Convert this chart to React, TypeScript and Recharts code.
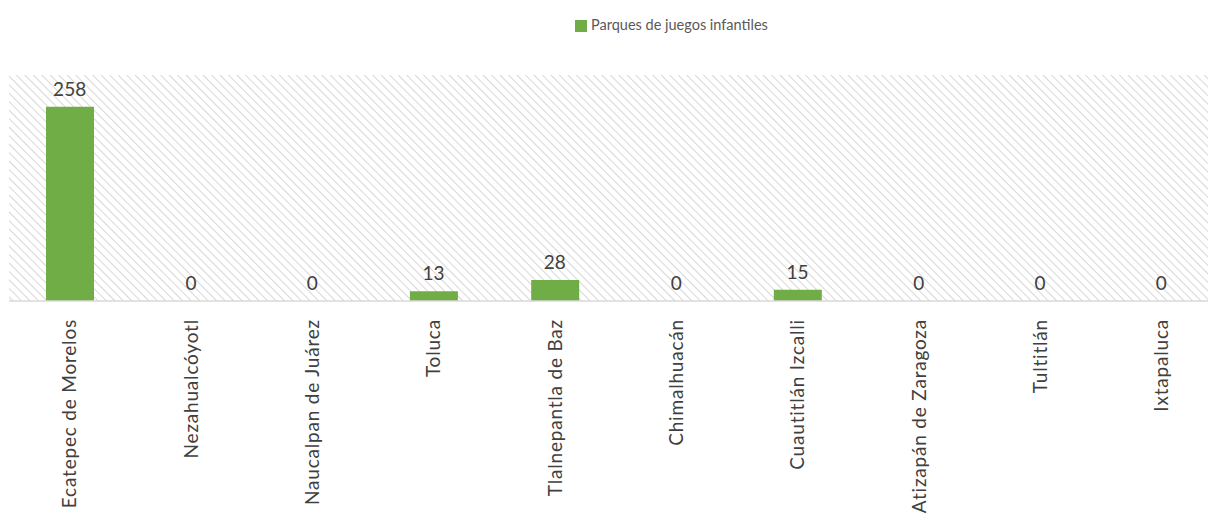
import React from 'react';
import { ComposedChart, Bar, Line, XAxis, YAxis, CartesianGrid, Legend, LabelList } from 'recharts';

const municipios = [
  'Ecatepec de Morelos',
  'Nezahualcóyotl',
  'Naucalpan de Juárez',
  'Toluca',
  'Tlalnepantla de Baz',
  'Chimalhuacán',
  'Cuautitlán Izcalli',
  'Atizapán de Zaragoza',
  'Tultitlán',
  'Ixtapaluca',
];
const parques = [258, 0, 0, 13, 28, 0, 15, 0, 0, 0];

const data = municipios.map((name, i) => ({ name, parques: parques[i] }));

const FONT = 'Lato, "Open Sans", sans-serif';

function RotatedTick(props: any) {
  const { x, y, payload } = props;
  return (
    <text
      x={x}
      y={y}
      transform={`rotate(-90, ${x}, ${y})`}
      textAnchor="end"
      dy="0.36em"
      fontSize={19}
      letterSpacing={0.8}
      fontFamily={FONT}
      fill="#404040"
    >
      {payload.value}
    </text>
  );
}

export default function App() {
  return (
    <div style={{ position: 'absolute', left: 0, top: 0, width: 1208, height: 522, overflow: 'hidden', background: '#fff' }}>
      <ComposedChart
        width={1240}
        height={522}
        data={data}
        margin={{ top: 75, right: 18, left: 9, bottom: 0 }}
        barSize={48}
      >
        <defs>
          <pattern id="hatch" width="6" height="6" patternUnits="userSpaceOnUse" patternTransform="rotate(-45)">
            <line x1="0" y1="0" x2="0" y2="6" stroke="#d0d0d0" strokeWidth="1.7" />
          </pattern>
        </defs>
        <CartesianGrid horizontal={false} vertical={false} fill="url(#hatch)" />
        <XAxis
          dataKey="name"
          interval={0}
          height={221}
          tickLine={false}
          axisLine={{ stroke: '#d9d9d9', strokeWidth: 1.5 }}
          tick={<RotatedTick />}
          tickMargin={12}
        />
        <YAxis hide domain={[0, 300]} />
        <Legend
          verticalAlign="top"
          iconType="square"
          iconSize={12}
          wrapperStyle={{ top: 15, left: 575, width: 'auto', height: 0, overflow: 'visible', fontFamily: FONT, fontSize: 14.5, lineHeight: '20px' }}
          formatter={(v: string) => <span style={{ color: '#595959' }}>{v}</span>}
        />
        <Bar dataKey="parques" name="Parques de juegos infantiles" fill="#70ad47" isAnimationActive={false} />
        <Line
          dataKey="parques"
          stroke="none"
          dot={false}
          activeDot={false}
          legendType="none"
          isAnimationActive={false}
        >
          <LabelList dataKey="parques" position="top" offset={11} fill="#404040" fontSize={19} fontFamily={FONT} />
        </Line>
      </ComposedChart>
    </div>
  );
}
